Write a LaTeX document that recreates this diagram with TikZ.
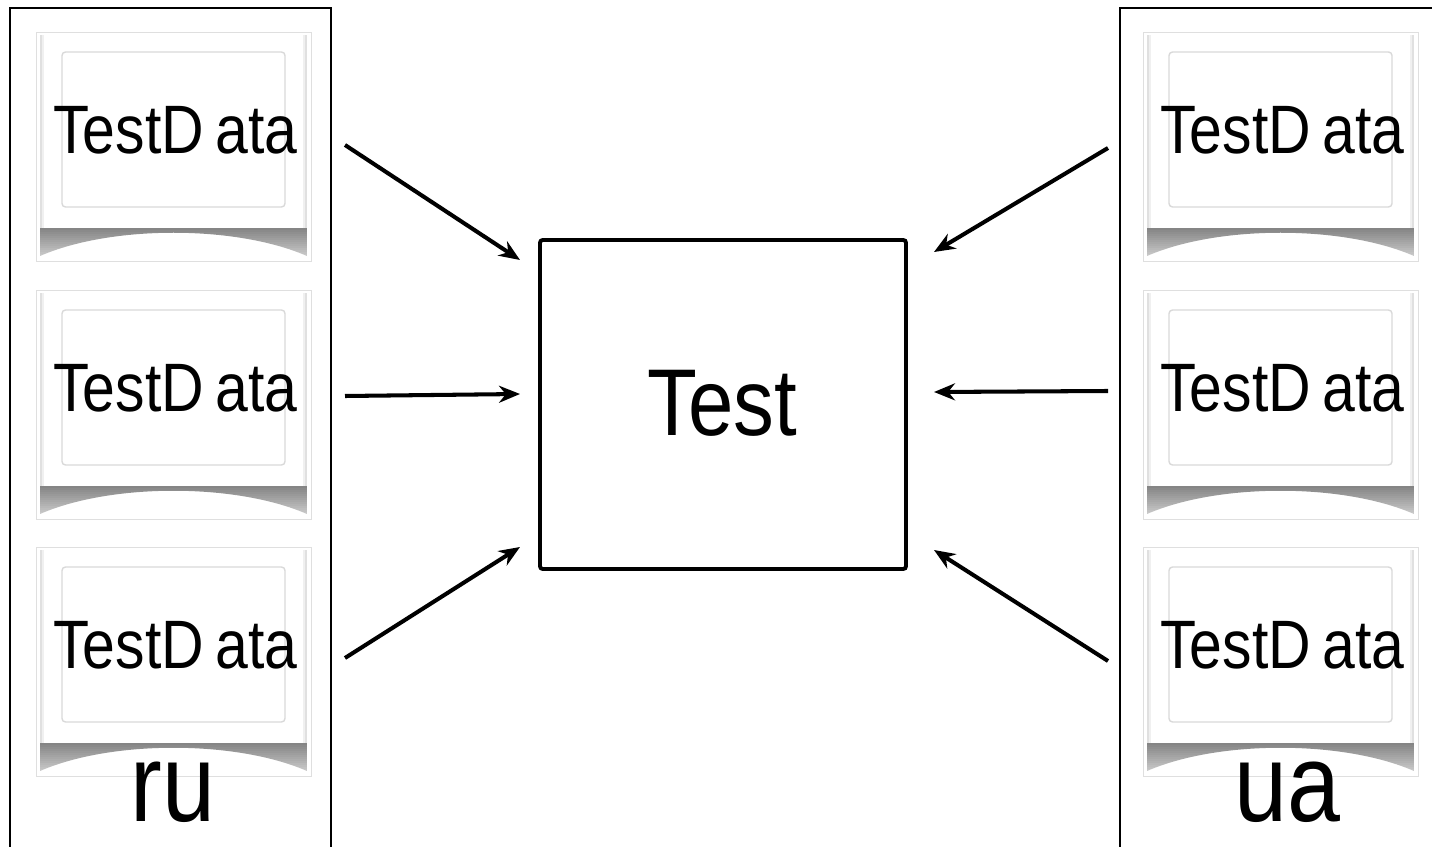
\documentclass[tikz,border=0pt]{standalone}
\usepackage{fontspec}
\setmainfont{Liberation Sans}[FakeStretch=0.86]
\usetikzlibrary{arrows.meta}
\tikzset{
  container/.style={line width=1.4pt, draw=black},
  datatext/.style={inner sep=0pt, font=\fontsize{39}{46}\selectfont},
  maintext/.style={inner sep=0pt, font=\fontsize{54}{60}\selectfont},
  langtext/.style={inner sep=0pt, font=\fontsize{63}{70}\selectfont},
  testbox/.style={draw, line width=2.2pt, rounded corners=1.5pt, minimum width=7.32cm, minimum height=6.58cm, inner sep=0pt},
  flow/.style={line width=2.3pt, -{Stealth[length=0.42cm, width=0.34cm]}},
}
\newcommand{\mycard}[4]{%
  \begin{scope}[shift={(#2,#3)}]
    \fill[white] (0,0) rectangle (275,229);
    \draw[gray!25, line width=0.4pt] (0,0) rectangle (275,229);
    \begin{scope}
      \clip (4,196) -- (271,196) -- (271,224) .. controls (200,193) and (75,193) .. (4,224) -- cycle;
      \foreach \i in {0,...,13} {
        \pgfmathtruncatemacro{\gv}{48-2*\i}
        \fill[black!\gv] (4,196+2*\i) rectangle (271,198.3+2*\i);
      }
    \end{scope}
    \fill[black!12] (4,3) rectangle (6,196);
    \fill[black!6] (6,3) rectangle (8,196);
    \fill[black!12] (269,3) rectangle (271,196);
    \fill[black!6] (267,3) rectangle (269,196);
    \draw[black!15, line width=0.8pt, rounded corners=2pt] (26,20) rectangle (249,175);
    \node[datatext] (#1) at (139.5,98) {TestD\kern0.17em ata};
  \end{scope}}
\begin{document}
\begin{tikzpicture}[x=0.02cm, y=-0.02cm]
\useasboundingbox (0,0) rectangle (1432,847);
% containers
\draw[container] (10,847) -- (10,8) -- (331,8) -- (331,847);
\draw[container] (1432,8) -- (1120,8) -- (1120,847);
% cards
\mycard{ru1}{36}{32}{}
\mycard{ru2}{36}{290}{}
\mycard{ru3}{36}{547}{}
\mycard{ua1}{1143}{32}{}
\mycard{ua2}{1143}{290}{}
\mycard{ua3}{1143}{547}{}
% labels
\node[langtext] (ru) at (173,792) {ru};
\node[langtext] (ua) at (1287,792) {ua};
% center box
\node[testbox] (test) at (723,404.5) {};
\node[maintext] (testlabel) at (722,403.5) {Test};
% arrow endpoints
\coordinate (l1s) at (345,145);  \coordinate (l1e) at (520,260);
\coordinate (l2s) at (345,396);  \coordinate (l2e) at (520,394);
\coordinate (l3s) at (345,658);  \coordinate (l3e) at (520,547);
\coordinate (r1s) at (1108,148); \coordinate (r1e) at (934,252);
\coordinate (r2s) at (1108,391); \coordinate (r2e) at (934,392);
\coordinate (r3s) at (1108,661); \coordinate (r3e) at (934,550);
\draw[flow] (l1s) -- (l1e);
\draw[flow] (l2s) -- (l2e);
\draw[flow] (l3s) -- (l3e);
\draw[flow] (r1s) -- (r1e);
\draw[flow] (r2s) -- (r2e);
\draw[flow] (r3s) -- (r3e);
\end{tikzpicture}
\end{document}
